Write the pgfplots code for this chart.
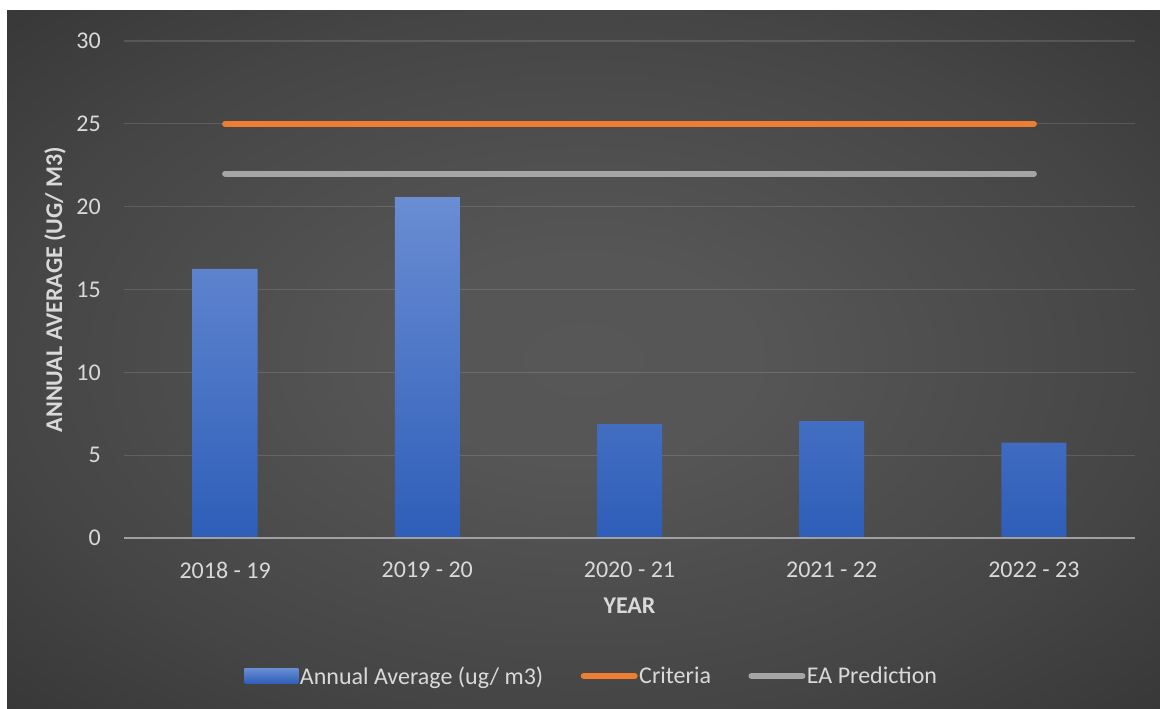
\documentclass[border=0pt]{standalone}
\usepackage{pgfplots}
\pgfplotsset{compat=1.18}
\usepackage{fontspec}
\setmainfont{Carlito}
\definecolor{bgc}{HTML}{575757}
\definecolor{bgo}{HTML}{242424}
\definecolor{bartop}{HTML}{6A8DD3}
\definecolor{barbot}{HTML}{2E5EB9}
\definecolor{crit}{HTML}{ED7D31}
\definecolor{eapred}{HTML}{A5A5A5}
\definecolor{txt}{HTML}{D9D9D9}
\definecolor{zline}{HTML}{A0A0A0}
\pgfdeclareradialshading{bgshade}{\pgfpoint{0bp}{0bp}}{%
  color(0bp)=(bgc); color(8bp)=(bgc!97!bgo); color(25bp)=(bgc!65!bgo); color(45bp)=(bgc!15!bgo); color(60bp)=(bgo); color(75bp)=(bgo)}
\begin{document}
\begin{tikzpicture}
\fill[white] (0bp,0bp) rectangle (1160bp,709bp);
\shade[shading=bgshade] (7bp,0bp) rectangle (1160bp,698bp);
\begin{axis}[
  at={(124bp,171bp)}, anchor=south west,
  scale only axis,
  width=1011bp, height=497bp,
  xmin=-0.5, xmax=4.5,
  ymin=0, ymax=30,
  ytick={0,5,10,15,20,25,30},
  xtick={0,1,2,3,4},
  xticklabels={2018 - 19, 2019 - 20, 2020 - 21, 2021 - 22, 2022 - 23},
  axis line style={draw=none},
  major tick length=0pt,
  ymajorgrids,
  grid style={white, opacity=0.13, line width=1.3bp},
  font=\fontsize{24bp}{28bp}\selectfont,
  /pgf/number format/assume math mode=true,
  ticklabel style={text=txt, font=\fontsize{24bp}{28bp}\selectfont},
  yticklabel style={anchor=east, inner sep=0pt, xshift=-23bp},
  xticklabel style={anchor=north, inner sep=0pt, yshift=-24bp},
  xlabel={YEAR},
  ylabel={ANNUAL AVERAGE (UG/ M3)},
  xlabel style={at={(axis description cs:0.5,0)}, anchor=center, yshift=-68bp, text=txt, font=\fontsize{24bp}{28bp}\selectfont\bfseries},
  ylabel style={at={(axis description cs:-0.0683,0.5)}, anchor=center, rotate=0, text=txt, font=\fontsize{24bp}{28bp}\selectfont\bfseries},
  legend style={at={(axis description cs:0.4624,-0.2777)}, anchor=center, draw=none, fill=none,
    legend columns=-1, text=txt, font=\fontsize{24bp}{28bp}\selectfont,
    nodes={inner sep=1.5bp},
    /tikz/every even column/.append style={column sep=36bp}},
  clip=false,
]
\addplot[ybar, bar width=65bp, draw=none, top color=bartop, bottom color=barbot,
  legend image code/.code={\fill[top color=bartop, bottom color=barbot] (0bp,-7.5bp) rectangle (54bp,7.5bp);}]
  coordinates {(0,16.25) (1,20.58) (2,6.88) (3,7.06) (4,5.75)};
\addlegendentry{Annual Average (ug/ m3)}
\addplot[crit, line width=6bp, line cap=round, mark=none,
  legend image code/.code={\draw[crit, line width=6bp, line cap=round] (3bp,0bp) -- (54bp,0bp);}]
  coordinates {(0,25) (1,25) (2,25) (3,25) (4,25)};
\addlegendentry{Criteria}
\addplot[eapred, line width=6bp, line cap=round, mark=none,
  legend image code/.code={\draw[eapred, line width=6bp, line cap=round] (3bp,0bp) -- (54bp,0bp);}]
  coordinates {(0,22) (1,22) (2,22) (3,22) (4,22)};
\addlegendentry{EA Prediction}
\addplot[zline, line width=2.7bp, mark=none, forget plot] coordinates {(-0.5,0) (4.5,0)};
\end{axis}
\end{tikzpicture}
\end{document}
